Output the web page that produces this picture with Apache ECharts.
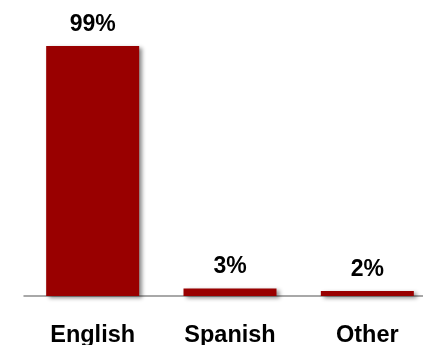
<!DOCTYPE html>
<html>
<head>
<meta charset="utf-8">
<script src="https://cdn.jsdelivr.net/npm/echarts@6/dist/echarts.min.js"></script>
<style>
  html, body { margin: 0; padding: 0; background: #fff; }
  #chart { width: 423px; height: 345px; }
</style>
</head>
<body>
<div id="chart"></div>
<script>
// data
var categories = ['English', 'Spanish', 'Other'];
var shares = [99, 3, 2];

var chart = echarts.init(document.getElementById('chart'));
chart.setOption({
    animation: false,
    grid: { left: 24, right: -13, top: 43.5, bottom: 49, outerBoundsMode: 'none', containLabel: false },
    xAxis: {
        type: 'category',
        data: categories,
        axisLine: { lineStyle: { color: '#8c8c8c', width: 1.5 } },
        axisTick: { show: false },
        axisLabel: {
            margin: 28,
            color: '#000',
            fontFamily: 'Liberation Sans, Arial, sans-serif',
            fontWeight: 'bold',
            fontSize: 23.5
        }
    },
    yAxis: {
        type: 'value',
        min: 0,
        max: 100,
        show: false,
        splitLine: { show: false }
    },
    series: [{
        type: 'bar',
        data: shares,
        barWidth: 93,
        itemStyle: {
            color: '#990000',
            shadowColor: 'rgba(0,0,0,0.45)',
            shadowBlur: 4,
            shadowOffsetX: 3,
            shadowOffsetY: 2
        },
        label: {
            show: true,
            position: 'top',
            distance: 10,
            formatter: '{c}%',
            color: '#000',
            fontFamily: 'Liberation Sans, Arial, sans-serif',
            fontWeight: 'bold',
            fontSize: 23
        }
    }]
});
</script>
</body>
</html>
